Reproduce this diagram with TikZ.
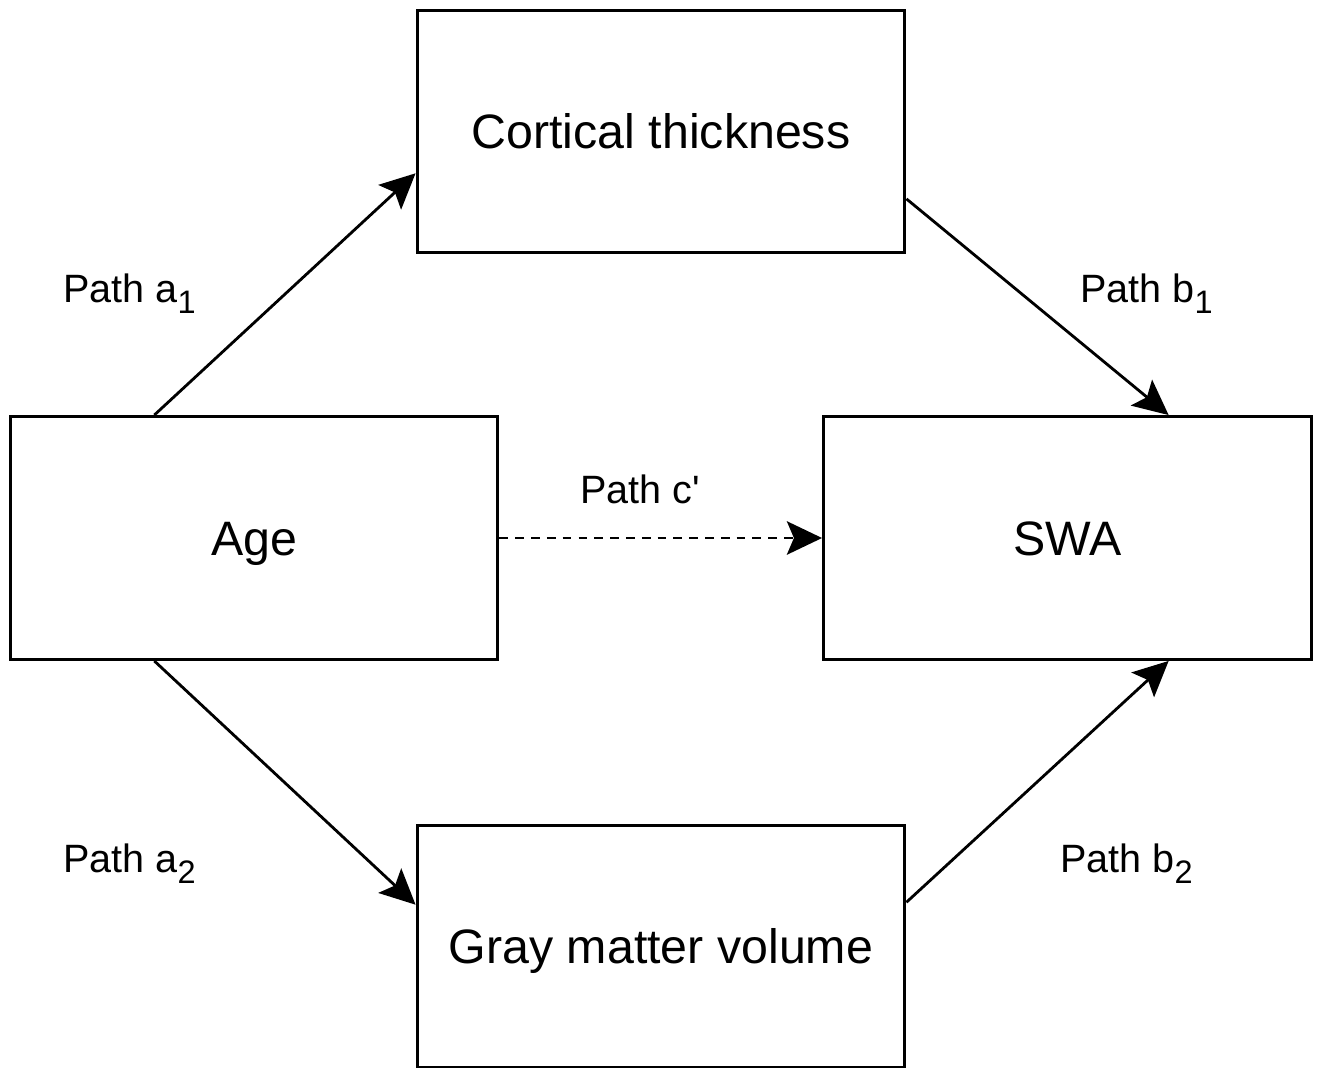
\documentclass[tikz,border=0pt]{standalone}
\usepackage{fontspec}
\setmainfont{Liberation Sans}
\usetikzlibrary{
        arrows.meta,
        positioning,
        calc
    }
\newcommand{\psub}[1]{\raisebox{-0.28em}{\fontsize{18.5}{20}\selectfont #1}}
\newcommand{\tick}{\XeTeXglyph\XeTeXglyphindex "quotesingle" \relax}

\begin{document}
\begin{tikzpicture}
[x=0.02cm, y=-0.02cm,
block/.style={rectangle, draw=black, line width=1.7pt, fill=white,
  minimum width=9.76cm, minimum height=4.86cm, text centered,
  text height=19.8pt, text depth=0pt,
  font=\fontsize{27.5}{33}\selectfont},
pathlabel/.style={anchor=base west, inner sep=0pt, font=\fontsize{22.5}{27}\selectfont},
arrow/.style={line width=1.6pt, -{Stealth[length=20pt, width=19pt, inset=4pt]}},
]
\useasboundingbox (0,0) rectangle (1320,1068);

\node (cort) [block] at (661,131.5) {Cortical thickness};
\node (age) [block] at (254,538) {Age};
\node (swa) [block] at (1067.5,538) {SWA};
\node (gray) [block] at (661,946.5) {Gray matter volume};

% indirect paths
\draw[arrow] ($(age.north west)!0.297!(age.north east)$) -- ($(cort.north west)!0.67!(cort.south west)$);
\draw[arrow] ($(cort.north east)!0.774!(cort.south east)$) -- ($(swa.north west)!0.706!(swa.north east)$);
\draw[arrow] ($(age.south west)!0.297!(age.south east)$) -- ($(gray.north west)!0.33!(gray.south west)$);
\draw[arrow] ($(gray.north east)!0.32!(gray.south east)$) -- ($(swa.south west)!0.706!(swa.south east)$);

% direct path
\draw[arrow, dash pattern=on 5pt off 4pt] (age) -- (swa);

\node (pa1) [pathlabel] at (63,302) {Path a\psub{1}};
\node (pb1) [pathlabel] at (1080,302) {Path b\psub{1}};
\node (pc) [pathlabel] at (580,503) {Path c\tick};
\node (pa2) [pathlabel] at (63,872) {Path a\psub{2}};
\node (pb2) [pathlabel] at (1060,872) {Path b\psub{2}};

\end{tikzpicture}
\end{document}
